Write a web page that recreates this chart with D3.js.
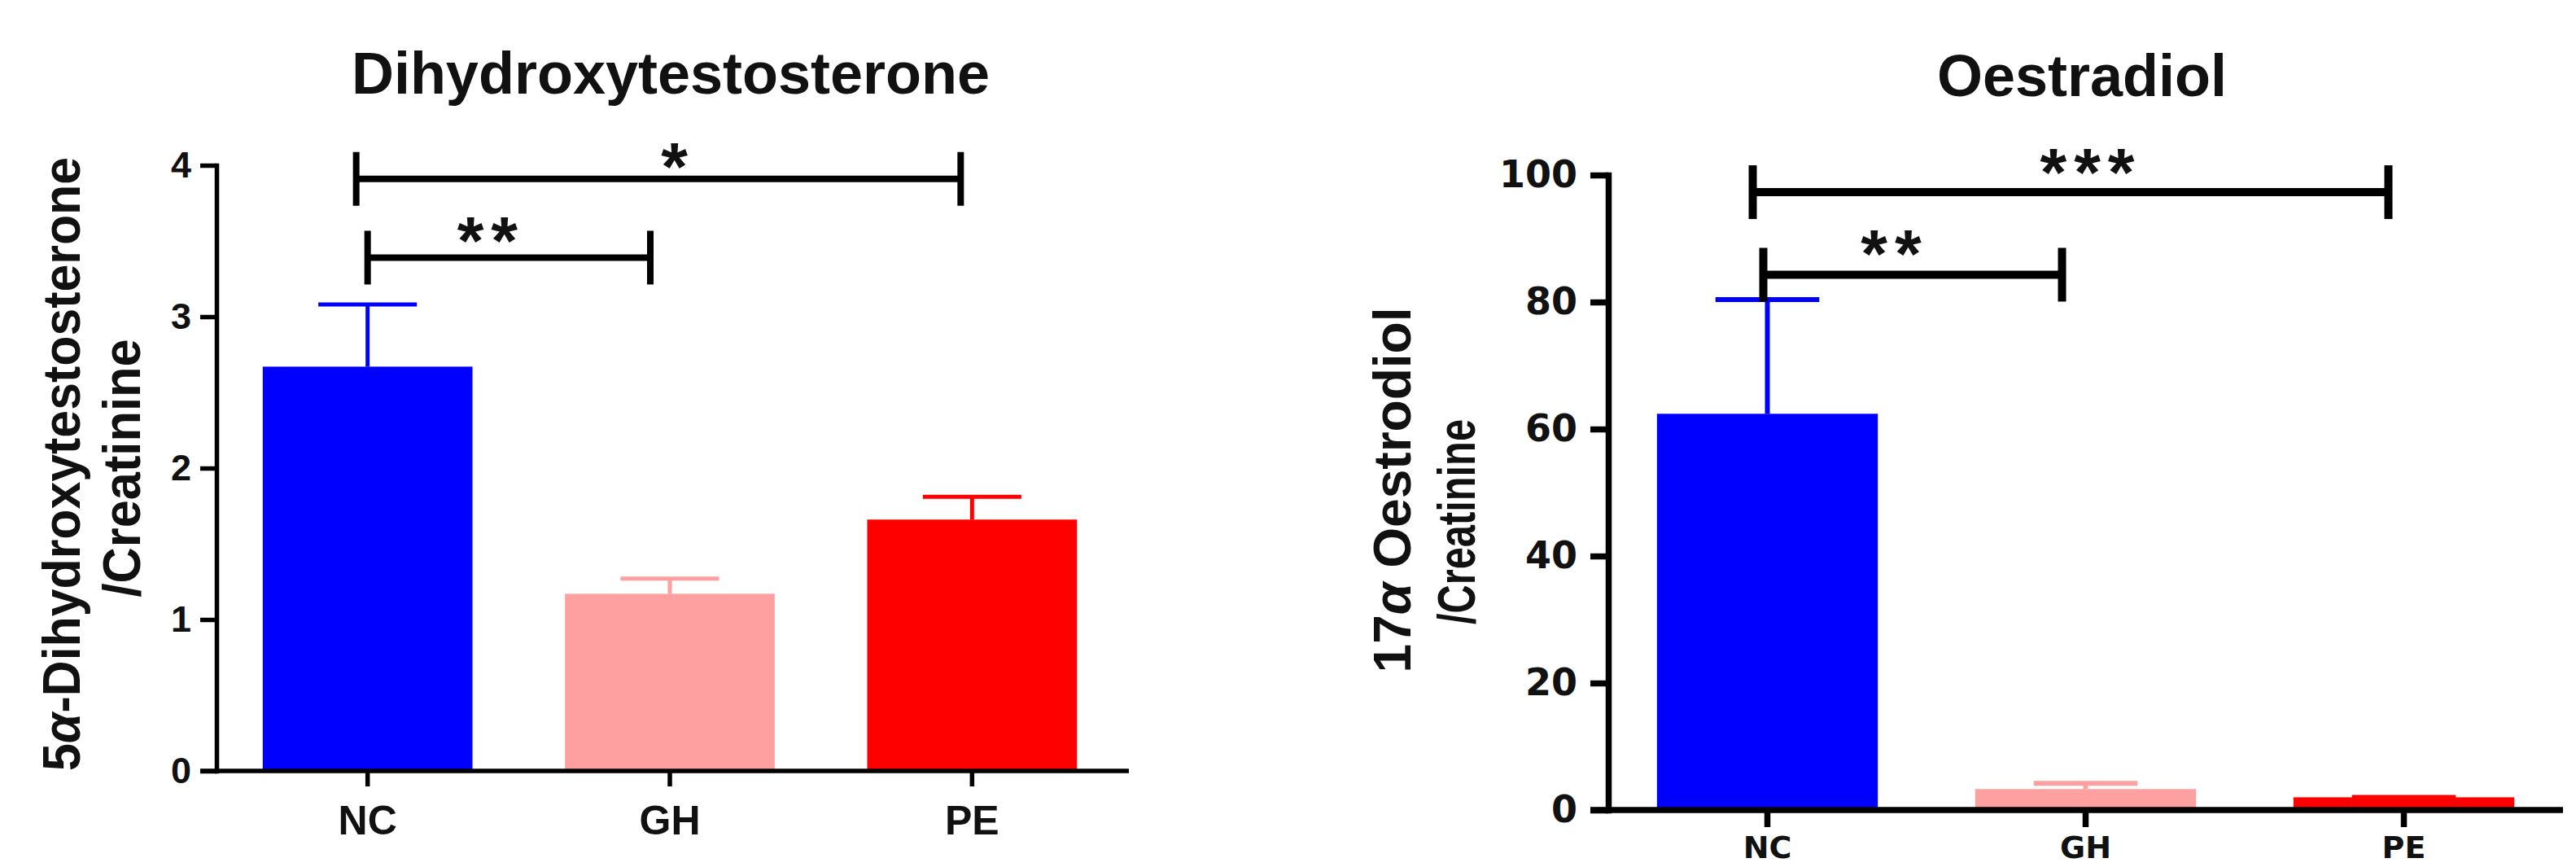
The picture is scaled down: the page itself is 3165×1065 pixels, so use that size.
<!DOCTYPE html>
<html>
<head>
<meta charset="utf-8">
<script src="https://cdn.jsdelivr.net/npm/d3@7"></script>
<style>
  html, body { margin: 0; padding: 0; background: #fff; }
  svg { display: block; }
</style>
</head>
<body>
<svg id="chart" width="3165" height="1065"></svg>
<script>
// ---------------- DATA ----------------
const categories = ["NC", "GH", "PE"];
const barColors = ["#0000ff", "#ffa0a0", "#ff0000"];

const dhtTitle = "Dihydroxytestosterone";
const dhtYLabel = [["5", "α", "-Dihydroxytestosterone"], ["/Creatinine"]];
const dhtMeans = [2.67, 1.17, 1.66];
const dhtSem = [0.41, 0.10, 0.15];
const dhtTicks = [0, 1, 2, 3, 4];
const dhtSig = [
  { from: "NC", to: "PE", level: 3.91, label: "*" },
  { from: "NC", to: "GH", level: 3.39, label: "**" }
];

const oesTitle = "Oestradiol";
const oesYLabel = [["17", "α", " Oestrodiol"], ["/Creatinine"]];
const oesMeans = [62.4, 3.3, 2.0];
const oesSem = [18.0, 0.9, 0.0];
const oesTicks = [0, 20, 40, 60, 80, 100];
const oesSig = [
  { from: "NC", to: "PE", level: 97.3, label: "***" },
  { from: "NC", to: "GH", level: 84.3, label: "**" }
];

// ---------------- LAYOUT ----------------
const svg = d3.select("#chart");
const SANS = "'Liberation Sans', Arial, Helvetica, sans-serif";
const HEAVY = "'DejaVu Sans', 'Liberation Sans', Arial, sans-serif";

const panels = [
  {
    title: dhtTitle, yLabel: dhtYLabel, means: dhtMeans, sem: dhtSem, ticks: dhtTicks, sig: dhtSig,
    xRange: [266, 1380], yRange: [947, 203], yMax: 4, xEnd: 1387,
    axisW: 5.5, tickLen: 20, xTickLen: 19, errW: 5, bracketW: 8,
    tickFont: SANS, tickSize: 45, tickPad: 11,
    xFont: SANS, xSize: 50, xBaseline: 1025,
    titleX: 824, titleY: 115,
    yLab: [{ x: 98, cy: 570, len: 754 }, { x: 172, cy: 575, len: 317 }],
    yLabSize: 64,
    shifts: [[-14, -14], [0, -24]], labelShift: [24, -22], rise: [34, 39]
  },
  {
    title: oesTitle, yLabel: oesYLabel, means: oesMeans, sem: oesSem, ticks: oesTicks, sig: oesSig,
    xRange: [1976, 3149], yRange: [995, 215], yMax: 100, xEnd: 3149,
    axisW: 7.5, tickLen: 22, xTickLen: 21, errW: 6, bracketW: 10,
    tickFont: HEAVY, tickSize: 46, tickPad: 16,
    xFont: HEAVY, xSize: 38, xBaseline: 1054,
    titleX: 2558, titleY: 118,
    yLab: [{ x: 1733, cy: 602, len: 449 }, { x: 1812, cy: 641, len: 252 }],
    yLabSize: 64,
    shifts: [[-18, -19], [-5, -29]], labelShift: [25, -22], rise: [43, 44]
  }
];

panels.forEach(p => {
  const g = svg.append("g");
  const x = d3.scaleBand().domain(categories).range(p.xRange)
    .paddingInner(0.306).paddingOuter(0.153);
  const y = d3.scaleLinear().domain([0, p.yMax]).range(p.yRange);
  const cx = c => x(c) + x.bandwidth() / 2;
  const y0 = y(0);

  // title
  g.append("text").attr("x", p.titleX).attr("y", p.titleY)
    .attr("text-anchor", "middle").attr("font-family", SANS)
    .attr("font-weight", "bold").attr("font-size", 72).attr("fill", "#111")
    .text(p.title);

  // y label (two lines, rotated)
  p.yLabel.forEach((parts, i) => {
    const L = p.yLab[i];
    const t = g.append("text")
      .attr("transform", `translate(${L.x},${L.cy}) rotate(-90)`)
      .attr("text-anchor", "middle").attr("font-family", SANS)
      .attr("font-weight", "bold").attr("font-size", p.yLabSize).attr("fill", "#111")
      .attr("textLength", L.len).attr("lengthAdjust", "spacingAndGlyphs");
    parts.forEach(s => {
      const ts = t.append("tspan").text(s);
      if (s === "α") ts.attr("font-style", "italic");
    });
  });

  // bars
  const data = categories.map((c, i) => ({ c, m: p.means[i], e: p.sem[i], col: barColors[i] }));
  g.selectAll("rect.bar").data(data).enter().append("rect")
    .attr("class", "bar")
    .attr("x", d => x(d.c)).attr("width", x.bandwidth())
    .attr("y", d => y(d.m)).attr("height", d => y0 - y(d.m))
    .attr("fill", d => d.col);

  // error bars
  const capW = x.bandwidth() * 0.47;
  data.forEach(d => {
    g.append("line").attr("x1", cx(d.c)).attr("x2", cx(d.c))
      .attr("y1", y(d.m)).attr("y2", y(d.m + d.e))
      .attr("stroke", d.col).attr("stroke-width", p.errW);
    g.append("line").attr("x1", cx(d.c) - capW / 2).attr("x2", cx(d.c) + capW / 2)
      .attr("y1", y(d.m + d.e)).attr("y2", y(d.m + d.e))
      .attr("stroke", d.col).attr("stroke-width", p.errW);
  });

  // y axis
  const yAx = g.append("g").attr("transform", `translate(${p.xRange[0]},0)`)
    .call(d3.axisLeft(y).tickValues(p.ticks).tickSize(p.tickLen)
      .tickPadding(p.tickPad).tickSizeOuter(0).tickFormat(d3.format("d")));
  yAx.select(".domain").attr("stroke", "#000").attr("stroke-width", p.axisW)
    .attr("stroke-linecap", "square");
  yAx.selectAll(".tick line").attr("stroke", "#000").attr("stroke-width", p.axisW);
  yAx.selectAll(".tick text").attr("font-family", p.tickFont).attr("font-weight", "bold")
    .attr("font-size", p.tickSize).attr("fill", "#111");

  // x axis
  g.append("line").attr("x1", p.xRange[0] - p.tickLen).attr("x2", p.xEnd)
    .attr("y1", y0).attr("y2", y0).attr("stroke", "#000").attr("stroke-width", p.axisW);
  const xAx = g.append("g").attr("transform", `translate(0,${y0})`)
    .call(d3.axisBottom(x).tickSize(p.xTickLen).tickSizeOuter(0));
  xAx.select(".domain").remove();
  xAx.selectAll(".tick line").attr("stroke", "#000").attr("stroke-width", p.axisW);
  xAx.selectAll(".tick text").attr("font-family", p.xFont).attr("font-weight", "bold")
    .attr("font-size", p.xSize).attr("fill", "#111")
    .attr("dy", null).attr("y", p.xBaseline - y0);

  // significance brackets
  p.sig.forEach((s, i) => {
    const xl = cx(s.from) + p.shifts[i][0];
    const xr = cx(s.to) + p.shifts[i][1];
    const yl = y(s.level);
    const half = 33;
    g.append("line").attr("x1", xl).attr("x2", xr).attr("y1", yl).attr("y2", yl)
      .attr("stroke", "#000").attr("stroke-width", p.bracketW);
    [xl, xr].forEach(xx => {
      g.append("line").attr("x1", xx).attr("x2", xx).attr("y1", yl - half).attr("y2", yl + half)
        .attr("stroke", "#000").attr("stroke-width", p.bracketW);
    });
    g.append("text").attr("x", (xl + xr) / 2 + p.labelShift[i])
      .attr("y", yl - p.rise[i] + 48)
      .attr("text-anchor", "middle").attr("font-family", SANS).attr("font-weight", "bold")
      .attr("font-size", 84).attr("letter-spacing", 9).attr("fill", "#111")
      .text(s.label);
  });
});
</script>
</body>
</html>
